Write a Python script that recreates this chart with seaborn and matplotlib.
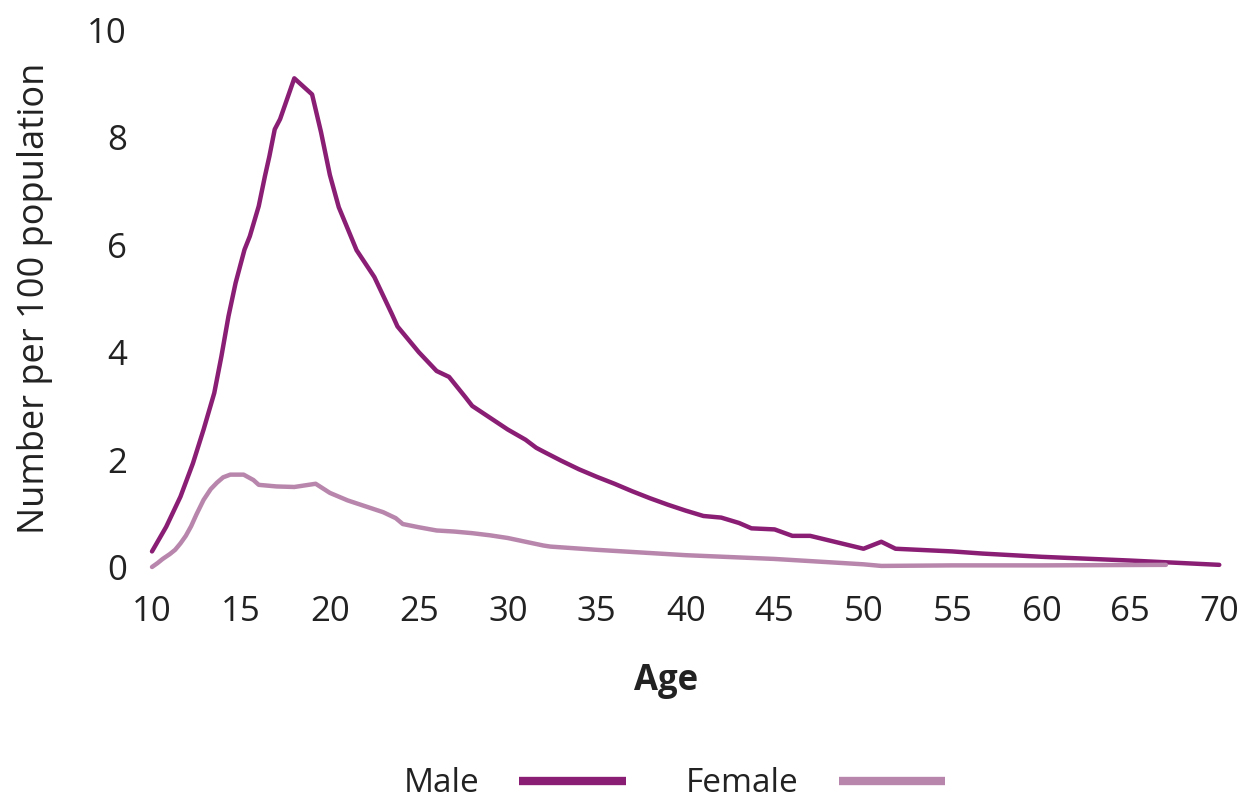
import numpy as np
import pandas as pd
import matplotlib
matplotlib.use("Agg")
import matplotlib.pyplot as plt
import seaborn as sns
from matplotlib.lines import Line2D

# values
male_age = [10, 10.8, 11.6, 12.3, 12.9, 13.5, 13.9, 14.3, 14.7, 15.2, 15.5, 16, 16.35,
            16.6, 16.9, 17.2, 18, 19, 19.5, 20, 20.5, 21, 21.5, 22, 22.5, 23, 23.5,
            23.8, 25, 26, 26.7, 27.6, 28, 29, 30, 31, 31.6, 32, 33, 34, 35, 36, 37,
            38, 39, 40, 41, 42, 43, 43.7, 45, 46, 47, 48, 49, 50, 51, 51.8, 55, 56.7,
            60, 65, 70]
male_val = [0.29, 0.75, 1.31, 1.93, 2.56, 3.24, 3.92, 4.67, 5.29, 5.91, 6.16, 6.72, 7.28,
            7.65, 8.15, 8.34, 9.1, 8.8, 8.1, 7.3, 6.7, 6.3, 5.9, 5.65, 5.4, 5.05, 4.7,
            4.48, 4.0, 3.65, 3.54, 3.17, 3.0, 2.78, 2.56, 2.37, 2.22, 2.15, 1.98, 1.82,
            1.68, 1.55, 1.41, 1.28, 1.16, 1.05, 0.95, 0.92, 0.82, 0.72, 0.70, 0.58, 0.58,
            0.50, 0.42, 0.34, 0.47, 0.34, 0.29, 0.25, 0.19, 0.12, 0.04]

female_age = [10, 10.3, 10.6, 11, 11.3, 11.6, 11.9, 12.2, 12.5, 12.9, 13.3, 13.65, 14,
              14.4, 15.15, 15.7, 16, 17, 18, 19.2, 20, 21, 22, 23, 23.7, 24.1, 25, 26,
              27, 28, 29, 30, 31, 32, 32.4, 35, 40, 45, 50, 51, 55, 60, 67]
female_val = [0.0, 0.07, 0.15, 0.24, 0.32, 0.44, 0.58, 0.76, 0.98, 1.25, 1.45, 1.57, 1.67,
              1.72, 1.72, 1.62, 1.53, 1.50, 1.49, 1.55, 1.38, 1.24, 1.13, 1.02, 0.91, 0.80,
              0.74, 0.68, 0.66, 0.63, 0.59, 0.54, 0.47, 0.40, 0.38, 0.32, 0.22, 0.15, 0.05,
              0.02, 0.03, 0.03, 0.04]

x_ticks = [10, 15, 20, 25, 30, 35, 40, 45, 50, 55, 60, 65, 70]
y_ticks = [0, 2, 4, 6, 8, 10]

colors = {"Male": "#891E74", "Female": "#B886AC"}

df = pd.concat([
    pd.DataFrame({"Age": male_age, "Value": male_val, "Sex": "Male"}),
    pd.DataFrame({"Age": female_age, "Value": female_val, "Sex": "Female"}),
])

sns.set_theme(style="white")
plt.rcParams["font.family"] = ["Open Sans", "DejaVu Sans"]
plt.rcParams["text.color"] = "#222222"

fig = plt.figure(figsize=(12.49, 8), dpi=100)
ax = fig.add_axes([0.1217, 0.29125, 0.8545, 0.67125])

sns.lineplot(data=df, x="Age", y="Value", hue="Sex", palette=colors,
             estimator=None, linewidth=3.2, ax=ax, legend=False)
for ln in ax.lines:
    ln.set_clip_on(False)
    ln.set_solid_joinstyle("round")

ax.set_xlim(10, 70)
ax.set_ylim(0, 10)
ax.set_xticks(x_ticks)
ax.set_yticks(y_ticks)
ax.tick_params(axis="both", length=0, labelsize=25, colors="#222222")
ax.tick_params(axis="x", pad=20)
ax.tick_params(axis="y", pad=18)
sns.despine(ax=ax, left=True, bottom=True)

ax.set_xlabel("Age", fontsize=25, fontweight="bold", color="#222222")
ax.xaxis.set_label_coords(0.482, -0.178)
ax.set_ylabel("Number per 100 population", fontsize=26, color="#222222")
ax.yaxis.set_label_coords(-0.093, 0.5)

handles = [Line2D([], [], color=colors["Male"], linewidth=6, solid_capstyle="butt"),
           Line2D([], [], color=colors["Female"], linewidth=6, solid_capstyle="butt")]
fig.legend(handles, ["Male", "Female"], loc="center", bbox_to_anchor=(0.54, 0.02),
           ncol=2, frameon=False, fontsize=24, markerfirst=False,
           handlelength=3.2, handletextpad=1.2, columnspacing=1.8)

fig.savefig("out.png", dpi=100)
